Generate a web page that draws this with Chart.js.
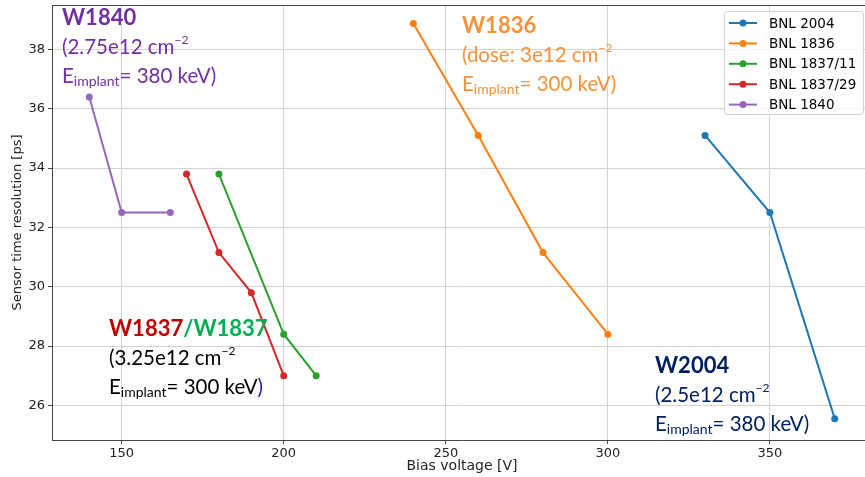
<!DOCTYPE html>
<html>
<head>
<meta charset="utf-8">
<script src="https://cdn.jsdelivr.net/npm/chart.js@4/dist/chart.umd.min.js"></script>
<style>
  html, body { margin: 0; padding: 0; overflow: hidden; background: #fff; }
  canvas { display: block; }
</style>
</head>
<body>
<canvas id="resChart" width="876" height="477"></canvas>
<script>
// Bias scans per sensor: bias voltage [V] and time resolution [ps]
const seriesLabels = ['BNL 2004', 'BNL 1836', 'BNL 1837/11', 'BNL 1837/29', 'BNL 1840'];
const seriesColors = ['#1f77b4', '#ff7f0e', '#2ca02c', '#d62728', '#9467bd'];

const bias2004 = [330, 350, 370];
const res2004 = [35.1, 32.5, 25.55];

const bias1836 = [240, 260, 280, 300];
const res1836 = [38.88, 35.1, 31.15, 28.4];

const bias1837_11 = [180, 200, 210];
const res1837_11 = [33.8, 28.4, 27.0];

const bias1837_29 = [170, 180, 190, 200];
const res1837_29 = [33.8, 31.15, 29.8, 27.0];

const bias1840 = [140, 150, 165];
const res1840 = [36.4, 32.5, 32.5];

const xTicks = [150, 200, 250, 300, 350];
const yTicks = [26, 28, 30, 32, 34, 36, 38];

const allBias = [bias2004, bias1836, bias1837_11, bias1837_29, bias1840];
const allRes = [res2004, res1836, res1837_11, res1837_29, res1840];

function toPoints(xs, ys) {
    return xs.map((x, i) => ({ x: x, y: ys[i] }));
}

const datasets = seriesLabels.map((label, i) => ({
    label: label,
    data: toPoints(allBias[i], allRes[i]),
    showLine: true,
    borderColor: seriesColors[i],
    backgroundColor: seriesColors[i],
    borderWidth: 2,
    pointRadius: 3.5,
    pointHoverRadius: 3.5,
    pointBorderWidth: 0
}));

// Text blocks written on the plot (dose and implant energy per wafer)
const sub = 'implant';
const notes = [
    { x: 62, y: 25, lines: [
        [['W1840', 'bold', 22, '#7030a0']],
        [['(2.75e12 cm', '', 20.5, '#7030a0'], ['\u22122', 'sup', 12, '#7030a0']],
        [['E', '', 20.5, '#7030a0'], [sub, 'sub', 14, '#7030a0'], ['= 380 keV)', '', 20.5, '#7030a0']]
    ] },
    { x: 462, y: 33, lines: [
        [['W1836', 'bold', 22, '#f7923a']],
        [['(dose: 3e12 cm', '', 20.5, '#f7923a'], ['\u22122', 'sup', 12, '#f7923a']],
        [['E', '', 20.5, '#f7923a'], [sub, 'sub', 14, '#f7923a'], ['= 300 keV)', '', 20.5, '#f7923a']]
    ] },
    { x: 109, y: 336, lines: [
        [['W1837', 'bold', 22, '#c00000'], ['/W1837', 'bold', 22, '#00b050']],
        [['(3.25e12 cm', '', 20.5, '#000000'], ['\u22122', 'sup', 12, '#000000']],
        [['E', '', 20.5, '#000000'], [sub, 'sub', 14, '#000000'], ['= 300 keV', '', 20.5, '#000000'], [')', '', 20.5, '#1a1aa6']]
    ] },
    { x: 655, y: 373, lines: [
        [['W2004', 'bold', 22, '#002060']],
        [['(2.5e12 cm', '', 20.5, '#002060'], ['\u22122', 'sup', 12, '#002060']],
        [['E', '', 20.5, '#002060'], [sub, 'sub', 14, '#002060'], ['= 380 keV)', '', 20.5, '#002060']]
    ] }
];

const noteFont = 'Lato, "Open Sans", sans-serif';
const tickFont = { family: '"DejaVu Sans", sans-serif', size: 13 };

const annotations = {
    id: 'annotations',
    afterDatasetsDraw(chart) {
        const ctx = chart.ctx;
        const area = chart.chartArea;
        ctx.save();

        // top spine
        ctx.strokeStyle = '#444';
        ctx.lineWidth = 1;
        ctx.beginPath();
        ctx.moveTo(area.left, area.top + 0.5);
        ctx.lineTo(area.right, area.top + 0.5);
        ctx.stroke();

        ctx.textBaseline = 'alphabetic';
        ctx.textAlign = 'left';
        notes.forEach(note => {
            note.lines.forEach((line, li) => {
                let x = note.x;
                const base = note.y + li * 29;
                line.forEach(([text, kind, size, color]) => {
                    const weight = kind === 'bold' ? 'bold ' : '';
                    ctx.font = weight + size + 'px ' + noteFont;
                    ctx.fillStyle = color;
                    let dy = 0;
                    if (kind === 'sup') dy = -10;
                    if (kind === 'sub') dy = 3;
                    ctx.fillText(text, x, base + dy);
                    x += ctx.measureText(text).width;
                });
            });
        });

        // legend box
        const lx = 724, ly = 11, lw = 139, lh = 103;
        ctx.fillStyle = 'rgba(255,255,255,0.8)';
        ctx.strokeStyle = '#d0d0d0';
        ctx.beginPath();
        ctx.roundRect(lx + 0.5, ly + 0.5, lw, lh, 3);
        ctx.fill();
        ctx.stroke();

        ctx.font = '13.5px "DejaVu Sans", sans-serif';
        ctx.textBaseline = 'middle';
        chart.data.datasets.forEach((ds, i) => {
            const y = 23 + i * 20.4;
            ctx.strokeStyle = ds.borderColor;
            ctx.lineWidth = 2;
            ctx.beginPath();
            ctx.moveTo(729, y);
            ctx.lineTo(757, y);
            ctx.stroke();
            ctx.fillStyle = ds.borderColor;
            ctx.beginPath();
            ctx.arc(743, y, 3.5, 0, Math.PI * 2);
            ctx.fill();
            ctx.fillStyle = '#000';
            ctx.fillText(ds.label, 769, y + 1);
        });
        ctx.restore();
    }
};

const config = {
    type: 'scatter',
    data: { datasets: datasets },
    options: {
        responsive: false,
        animation: false,
        layout: { padding: { top: 5, right: 4, left: 0, bottom: 0 } },
        plugins: {
            legend: { display: false },
            tooltip: { enabled: false }
        },
        scales: {
            x: {
                type: 'linear',
                min: 128.5,
                max: 381.5,
                afterBuildTicks: s => { s.ticks = xTicks.map(v => ({ value: v })); },
                afterFit: s => { s.height = 37; s.paddingLeft = 0; s.paddingRight = 0; },
                ticks: { color: '#222', font: tickFont, padding: 2, maxRotation: 0 },
                grid: { color: '#d3d3d3', tickColor: '#444', tickLength: 4 },
                border: { color: '#444', width: 1 },
                title: { display: true, text: 'Bias voltage [V]', color: '#222', font: { family: '"DejaVu Sans", sans-serif', size: 14 }, padding: { top: 0, bottom: 2 } }
            },
            y: {
                type: 'linear',
                min: 24.83,
                max: 39.5,
                afterBuildTicks: s => { s.ticks = yTicks.map(v => ({ value: v })); },
                afterFit: s => { s.width = 52; s.paddingTop = 0; s.paddingBottom = 0; },
                ticks: { color: '#222', font: tickFont, padding: 3 },
                grid: { color: '#d3d3d3', tickColor: '#444', tickLength: 4 },
                border: { color: '#444', width: 1 },
                title: { display: true, text: 'Sensor time resolution [ps]', color: '#222', font: tickFont, padding: { top: 10, bottom: 0 } }
            }
        }
    },
    plugins: [annotations]
};

new Chart(document.getElementById('resChart'), config);
</script>
</body>
</html>
